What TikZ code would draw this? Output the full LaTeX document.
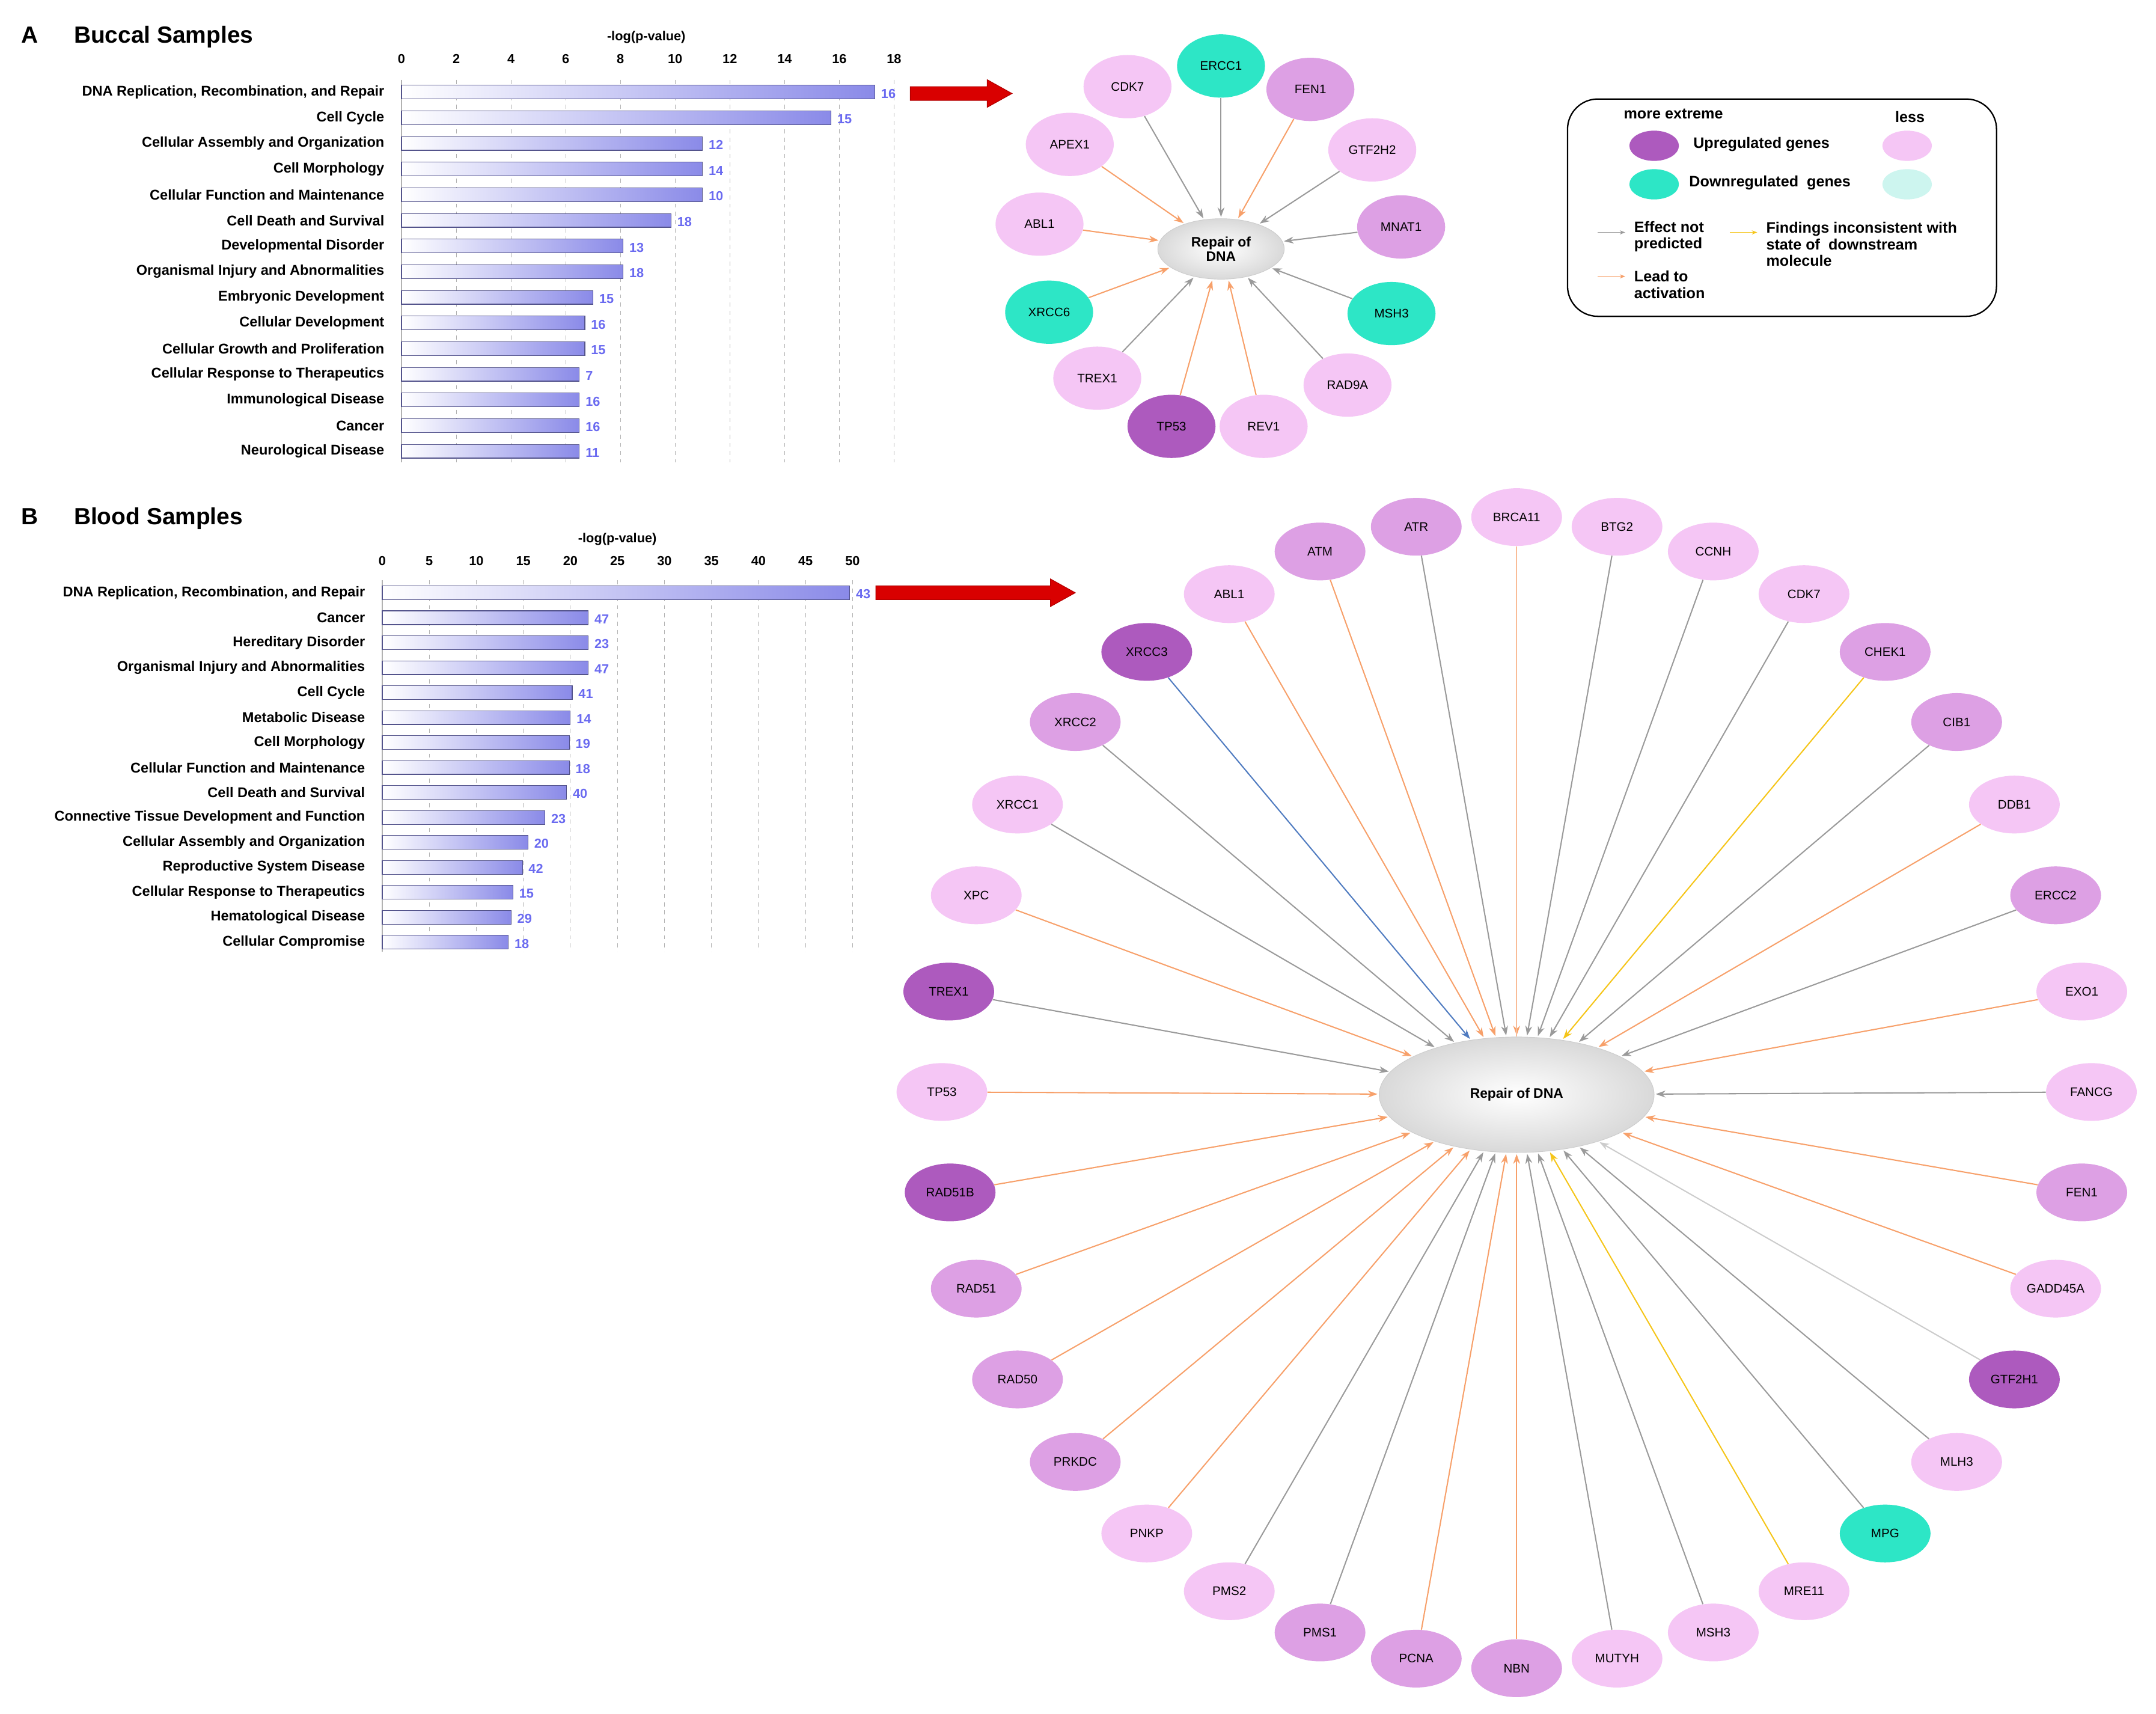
\documentclass[tikz,border=0pt]{standalone}
\usepackage{fontspec}
\setmainfont{Liberation Sans}
\usetikzlibrary{shapes.geometric,arrows.meta}
\definecolor{lp}{HTML}{F5C6F5}
\definecolor{mp}{HTML}{DDA0E4}
\definecolor{dp}{HTML}{AD5ABE}
\definecolor{tl}{HTML}{2DE6C6}
\definecolor{ltl}{HTML}{CDF5EF}
\definecolor{org}{HTML}{F7A06A}
\definecolor{gry}{HTML}{9A9A9A}
\definecolor{ylw}{HTML}{F5C518}
\definecolor{blu}{HTML}{4F7BC0}
\definecolor{barc}{HTML}{8A8AE8}
\definecolor{numc}{HTML}{6A6AF0}
\tikzset{
 gene/.style={ellipse,minimum width=64pt,minimum height=46pt,inner sep=0pt,font=\fontsize{9}{10}\selectfont},
 geneB/.style={ellipse,minimum width=66pt,minimum height=42pt,inner sep=0pt,font=\fontsize{9}{10}\selectfont},
 L/.style={gene,fill=lp}, M/.style={gene,fill=mp}, D/.style={gene,fill=dp}, T/.style={gene,fill=tl},
 LB/.style={geneB,fill=lp}, MB/.style={geneB,fill=mp}, DB/.style={geneB,fill=dp}, TB/.style={geneB,fill=tl},
 ed/.style={-{Stealth[length=7pt,width=5pt]},line width=0.9pt,shorten >=1pt},
 eg/.style={ed,draw=gry}, eo/.style={ed,draw=org}, ey/.style={ed,draw=ylw}, eb/.style={ed,draw=blu}, el/.style={ed,draw=gry!50},
 bar/.style={draw=barc!60!black,left color=white,right color=barc,line width=0.5pt},
 lab/.style={anchor=east,font=\bfseries\fontsize{10.3}{11}\selectfont},
 num/.style={anchor=west,text=numc,font=\bfseries\fontsize{9.5}{10}\selectfont},
 tick/.style={font=\bfseries\fontsize{9.5}{10}\selectfont},
 ttl/.style={anchor=west,font=\bfseries\fontsize{17}{19}\selectfont},
 lgt/.style={font=\bfseries\fontsize{11}{12}\selectfont},
 redarr/.style={draw=red!70!black,fill=red!85!black,line width=0.5pt}
}
\begin{document}
\begin{tikzpicture}[x=1pt,y=-1pt]
\useasboundingbox (0,0) rectangle (1568,1246);
% ===== Panel A =====
\node[ttl] (tA) at (12,27) {A\hspace{26pt}Buccal Samples};
\node[tick] (axA) at (470,27) {-log(p-value)};
\foreach \v [count=\i from 0] in {0,2,...,18}{
  \node[tick] (tkA\i) at ({292+19.9*\v},43) {\v};
  \draw[gray!60,dashed,line width=0.4pt] ({292+19.9*\v},58) -- ({292+19.9*\v},336);}
\draw[gray!60,line width=0.5pt] (292,58) -- (292,336);
\foreach \t/\v/\n [count=\i from 0] in {
 DNA Replication{,} Recombination{,} and Repair/17.3/16,
 Cell Cycle/15.7/15,
 Cellular Assembly and Organization/11/12,
 Cell Morphology/11/14,
 Cellular Function and Maintenance/11/10,
 Cell Death and Survival/9.85/18,
 Developmental Disorder/8.1/13,
 Organismal Injury and Abnormalities/8.1/18,
 Embryonic Development/7/15,
 Cellular Development/6.7/16,
 Cellular Growth and Proliferation/6.7/15,
 Cellular Response to Therapeutics/6.5/7,
 Immunological Disease/6.5/16,
 Cancer/6.5/16,
 Neurological Disease/6.5/11}{
  \pgfmathsetmacro{\yy}{67+18.65*\i}
  \node[lab] (la\i) at (283,\yy) {\t};
  \draw[bar] (292,\yy-5) rectangle ({292+19.9*\v},\yy+5);
  \node[num] (na\i) at ({293+19.9*\v},\yy+1) {\n};}
\draw[redarr] (662,63) -- (718,63) -- (718,58) -- (736,68) -- (718,78) -- (718,73) -- (662,73) -- cycle;
% Network A
\node[ellipse,minimum width=92pt,minimum height=44pt,inner sep=0pt,shading=radial,inner color=white,outer color=gray!30,draw=gray!40,align=center,font=\bfseries\fontsize{10}{10.5}\selectfont] (cA) at (888,181) {Repair of\\DNA};
\node[T] (a1) at (888,48) {ERCC1};
\node[L] (a2) at (820,63) {CDK7};
\node[M] (a3) at (953,65) {FEN1};
\node[L] (a4) at (778,105) {APEX1};
\node[L] (a5) at (998,109) {GTF2H2};
\node[L] (a6) at (756,163) {ABL1};
\node[M] (a7) at (1019,165) {MNAT1};
\node[T] (a8) at (763,227) {XRCC6};
\node[T] (a9) at (1012,228) {MSH3};
\node[L] (a10) at (798,275) {TREX1};
\node[L] (a11) at (980,280) {RAD9A};
\node[D] (a12) at (852,310) {TP53};
\node[L] (a13) at (919,310) {REV1};
\foreach \a/\s in {a1/eg,a2/eg,a3/eo,a4/eo,a5/eg,a6/eo,a7/eg,a8/eo,a9/eg,a10/eg,a11/eg,a12/eo,a13/eo}
  \draw[\s] (\a) -- (cA);
% Legend
\draw[line width=1pt,rounded corners=22pt] (1140,72) rectangle (1452,230);
\node[lgt] (lg1) at (1217,83) {more extreme};
\node[lgt] (lg2) at (1389,85) {less};
\node[ellipse,fill=dp,minimum width=36pt,minimum height=22pt] (lgu) at (1203,106) {};
\node[ellipse,fill=lp,minimum width=36pt,minimum height=22pt] (lgu2) at (1387,106) {};
\node[lgt,anchor=west] (lg3) at (1228,105) {Upregulated genes};
\node[ellipse,fill=tl,minimum width=36pt,minimum height=22pt] (lgd) at (1203,134) {};
\node[ellipse,fill=ltl,minimum width=36pt,minimum height=22pt] (lgd2) at (1387,134) {};
\node[lgt,anchor=west] (lg4) at (1225,133) {Downregulated~ genes};
\coordinate (g1) at (1162,169); \coordinate (g2) at (1183,169);
\draw[eg,line width=0.5pt,-{Stealth[length=4pt,width=3pt]}] (g1) -- (g2);
\node[lgt,anchor=west,align=left] (lg5) at (1185,172) {Effect not\\predicted};
\coordinate (o1) at (1162,201); \coordinate (o2) at (1183,201);
\draw[eo,line width=0.5pt,-{Stealth[length=4pt,width=3pt]}] (o1) -- (o2);
\node[lgt,anchor=west,align=left] (lg6) at (1185,207) {Lead to\\activation};
\coordinate (y1) at (1258,169); \coordinate (y2) at (1279,169);
\draw[ey,line width=0.5pt,-{Stealth[length=4pt,width=3pt]}] (y1) -- (y2);
\node[lgt,anchor=north west,align=left] (lg7) at (1281,158) {Findings inconsistent with\\state of~ downstream\\molecule};
% ===== Panel B =====
\node[ttl] (tB) at (12,377) {B\hspace{26pt}Blood Samples};
\node[tick] (axB) at (449,392) {-log(p-value)};
\foreach \v [count=\i from 0] in {0,5,...,50}{
  \node[tick] (tkB\i) at ({278+6.84*\v},408) {\v};
  \draw[gray!60,dashed,line width=0.4pt] ({278+6.84*\v},422) -- ({278+6.84*\v},692);}
\draw[gray!60,line width=0.5pt] (278,422) -- (278,692);
\foreach \t/\v/\n [count=\i from 0] in {
 DNA Replication{,} Recombination{,} and Repair/49.7/43,
 Cancer/21.9/47,
 Hereditary Disorder/21.9/23,
 Organismal Injury and Abnormalities/21.9/47,
 Cell Cycle/20.2/41,
 Metabolic Disease/20/14,
 Cell Morphology/19.9/19,
 Cellular Function and Maintenance/19.9/18,
 Cell Death and Survival/19.6/40,
 Connective Tissue Development and Function/17.3/23,
 Cellular Assembly and Organization/15.5/20,
 Reproductive System Disease/14.9/42,
 Cellular Response to Therapeutics/13.9/15,
 Hematological Disease/13.7/29,
 Cellular Compromise/13.4/18}{
  \pgfmathsetmacro{\yy}{431+18.15*\i}
  \node[lab] (lb\i) at (269,\yy) {\t};
  \draw[bar] (278,\yy-5) rectangle ({278+6.84*\v},\yy+5);
  \node[num] (nb\i) at ({279+6.84*\v},\yy+1) {\n};}
\draw[redarr] (637,426) -- (764,426) -- (764,421) -- (782,431) -- (764,441) -- (764,436) -- (637,436) -- cycle;
% Network B
\node[ellipse,minimum width=200pt,minimum height=84pt,inner sep=0pt,shading=radial,inner color=white,outer color=gray!30,draw=gray!40,font=\bfseries\fontsize{10}{11}\selectfont] (cB) at (1103,796) {Repair of DNA};
\foreach \nm/\st/\x/\y/\e [count=\i] in {
 BRCA11/LB/1103/376/eo, ATR/MB/1030/383/eg, BTG2/LB/1176/383/eg, ATM/MB/960/401/eo,
 CCNH/LB/1246/401/eg, ABL1/LB/894/432/eo, CDK7/LB/1312/432/eg, XRCC3/DB/834/474/eb,
 CHEK1/MB/1371/474/ey, XRCC2/MB/782/525/eg, CIB1/MB/1423/525/eg, XRCC1/LB/740/585/eg,
 DDB1/LB/1465/585/eo, XPC/LB/710/651/eo, ERCC2/MB/1495/651/eg, TREX1/DB/690/721/eg,
 EXO1/LB/1514/721/eo, TP53/LB/685/794/eo, FANCG/LB/1521/794/eg, RAD51B/DB/691/867/eo,
 FEN1/MB/1514/867/eo, RAD51/MB/710/937/eo, GADD45A/LB/1495/937/eo, RAD50/MB/740/1003/eo,
 GTF2H1/DB/1465/1003/el, PRKDC/MB/782/1063/eo, MLH3/LB/1423/1063/eg, PNKP/LB/834/1115/eo,
 MPG/TB/1371/1115/eg, PMS2/LB/894/1157/eg, MRE11/LB/1312/1157/ey, PMS1/MB/960/1187/eg,
 MSH3/LB/1246/1187/eg, PCNA/MB/1030/1206/eo, MUTYH/LB/1176/1206/eg, NBN/MB/1103/1213/eo}{
  \node[\st] (b\i) at (\x,\y) {\nm};
  \draw[\e] (b\i) -- (cB);}
\draw[org!70,line width=0.9pt] (b1) -- (cB);
\end{tikzpicture}
\end{document}
